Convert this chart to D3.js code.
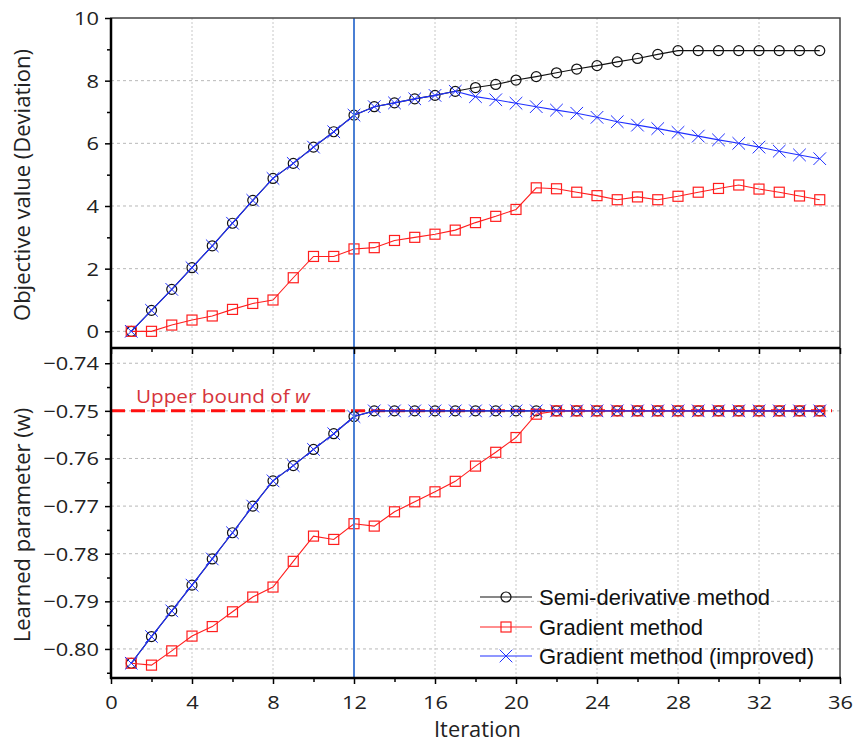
<!DOCTYPE html>
<html>
<head>
<meta charset="utf-8">
<script src="https://cdn.jsdelivr.net/npm/d3@7"></script>
<style>
  html, body { margin: 0; padding: 0; background: #fff; }
  svg { display: block; }
  text { font-family: "Open Sans", sans-serif; }
</style>
</head>
<body>
<svg id="chart" width="856" height="744"></svg>
<script>
// ---------------- data ----------------
const iterations = [1,2,3,4,5,6,7,8,9,10,11,12,13,14,15,16,17,18,19,20,21,22,23,24,25,26,27,28,29,30,31,32,33,34,35];

const semiObjective = [0,0.67,1.34,2.03,2.73,3.45,4.18,4.88,5.36,5.88,6.37,6.90,7.17,7.29,7.42,7.53,7.66,7.78,7.88,8.02,8.13,8.25,8.37,8.48,8.60,8.71,8.84,8.96,8.96,8.96,8.96,8.96,8.96,8.96,8.96];
const gradObjective = [0,0,0.20,0.36,0.49,0.70,0.89,1.00,1.71,2.39,2.39,2.63,2.67,2.90,3.00,3.10,3.23,3.47,3.67,3.89,4.58,4.55,4.44,4.33,4.20,4.29,4.20,4.31,4.44,4.56,4.67,4.54,4.44,4.32,4.20];
const impObjective = [0,0.67,1.34,2.03,2.73,3.45,4.18,4.88,5.36,5.88,6.37,6.90,7.17,7.29,7.42,7.53,7.66,7.49,7.39,7.28,7.17,7.06,6.96,6.83,6.69,6.58,6.47,6.35,6.23,6.11,6.00,5.88,5.75,5.63,5.51];

const semiW = [-0.8030,-0.7974,-0.7920,-0.7866,-0.7811,-0.7756,-0.7700,-0.7647,-0.7615,-0.7581,-0.7548,-0.7512,-0.75,-0.75,-0.75,-0.75,-0.75,-0.75,-0.75,-0.75,-0.75,-0.75,-0.75,-0.75,-0.75,-0.75,-0.75,-0.75,-0.75,-0.75,-0.75,-0.75,-0.75,-0.75,-0.75];
const gradW = [-0.8030,-0.8034,-0.8004,-0.7973,-0.7953,-0.7922,-0.7891,-0.7870,-0.7816,-0.7763,-0.7770,-0.7737,-0.7742,-0.7712,-0.7691,-0.7670,-0.7648,-0.7616,-0.7587,-0.7556,-0.7507,-0.75,-0.75,-0.75,-0.75,-0.75,-0.75,-0.75,-0.75,-0.75,-0.75,-0.75,-0.75,-0.75,-0.75];
const impW = [-0.8030,-0.7974,-0.7920,-0.7866,-0.7811,-0.7756,-0.7700,-0.7647,-0.7615,-0.7581,-0.7548,-0.7512,-0.75,-0.75,-0.75,-0.75,-0.75,-0.75,-0.75,-0.75,-0.75,-0.75,-0.75,-0.75,-0.75,-0.75,-0.75,-0.75,-0.75,-0.75,-0.75,-0.75,-0.75,-0.75,-0.75];

const xTicks = [0,4,8,12,16,20,24,28,32,36];
const xMinorTicks = [2,6,10,14,18,22,26,30,34];
const topTicks = [0,2,4,6,8,10];
const topMinorTicks = [1,3,5,7,9];
const botTicks = [-0.80,-0.79,-0.78,-0.77,-0.76,-0.75,-0.74];
const botMinorTicks = [-0.805,-0.795,-0.785,-0.775,-0.765,-0.755,-0.745];
const upperBound = -0.75;
const markedIteration = 12;

const seriesNames = ["Semi-derivative method", "Gradient method", "Gradient method (improved)"];
const seriesColors = ["#111111", "#ff1e1e", "#2030ff"];
const seriesShapes = ["circle", "square", "cross"];

// ---------------- layout ----------------
const L = 111, R = 840, T = 18, M = 348, B = 678;
const svg = d3.select("#chart");

const x = d3.scaleLinear().domain([0, 36]).range([L, R]);
const yTop = d3.scaleLinear().domain([-0.532, 10]).range([M, T]);
const yBot = d3.scaleLinear().domain([-0.8061, -0.7368]).range([B, M]);

const topSeries = [semiObjective, gradObjective, impObjective];
const botSeries = [semiW, gradW, impW];

const SX = 1.15;
function label(g, tx, ty, str, opts) {
  opts = opts || {};
  const t = g.append("text")
    .attr("transform", `translate(${tx},${ty}) scale(${opts.sx || SX},1)` + (opts.rot ? ` rotate(${opts.rot})` : ""))
    .attr("text-anchor", opts.anchor || "middle")
    .attr("font-size", opts.size || 19)
    .attr("fill", opts.fill || "#222")
    .text(str);
  if (opts.family) t.style("font-family", opts.family);
  return t;
}

// ---------------- grids ----------------
const grid = svg.append("g");
topTicks.filter(v => v < 10).forEach(v => {
  grid.append("line").attr("x1", L).attr("x2", R).attr("y1", yTop(v)).attr("y2", yTop(v))
    .attr("stroke", "#b8b8b8").attr("stroke-width", 1).attr("stroke-dasharray", "3,3");
});
botTicks.forEach(v => {
  grid.append("line").attr("x1", L).attr("x2", R).attr("y1", yBot(v)).attr("y2", yBot(v))
    .attr("stroke", "#b8b8b8").attr("stroke-width", 1).attr("stroke-dasharray", "3,3");
});
xTicks.filter(v => v > 0 && v < 36 && v !== markedIteration).forEach(v => {
  [[T, M], [M, B]].forEach(([a, b]) => {
    grid.append("line").attr("x1", x(v)).attr("x2", x(v)).attr("y1", a).attr("y2", b)
      .attr("stroke", "#c8c8c8").attr("stroke-width", 1).attr("stroke-dasharray", "2,2");
  });
});

// ---------------- upper bound line ----------------
svg.append("line")
  .attr("x1", L).attr("x2", R - 8)
  .attr("y1", yBot(upperBound)).attr("y2", yBot(upperBound))
  .attr("stroke", "#ff1010").attr("stroke-width", 3).attr("stroke-dasharray", "14,6");

const ub = svg.append("text")
  .attr("transform", `translate(136,403) scale(${SX},1)`)
  .attr("font-size", 18).attr("fill", "#d6343c");
ub.append("tspan").text("Upper bound of ");
ub.append("tspan").attr("font-style", "italic").text("w");

// ---------------- series ----------------
function drawMarker(g, shape, cx, cy, color) {
  if (shape === "circle") {
    g.append("circle").attr("cx", cx).attr("cy", cy).attr("r", 5)
      .attr("fill", "none").attr("stroke", color).attr("stroke-width", 1.2);
  } else if (shape === "square") {
    g.append("rect").attr("x", cx - 5).attr("y", cy - 5).attr("width", 10).attr("height", 10)
      .attr("fill", "none").attr("stroke", color).attr("stroke-width", 1.2);
  } else {
    const s = 6.3;
    g.append("path").attr("d", `M${cx - s},${cy - s}L${cx + s},${cy + s}M${cx - s},${cy + s}L${cx + s},${cy - s}`)
      .attr("stroke", color).attr("stroke-width", 1).attr("fill", "none");
  }
}

function drawPanel(seriesList, yScale) {
  seriesList.forEach((vals, i) => {
    const g = svg.append("g");
    const line = d3.line().x((d, j) => x(iterations[j])).y(d => yScale(d));
    g.append("path").datum(vals).attr("d", line)
      .attr("fill", "none").attr("stroke", seriesColors[i]).attr("stroke-width", 1.1);
    vals.forEach((v, j) => drawMarker(g, seriesShapes[i], x(iterations[j]), yScale(v), seriesColors[i]));
  });
}
drawPanel(topSeries, yTop);
drawPanel(botSeries, yBot);

// ---------------- marked iteration line ----------------
svg.append("line").attr("x1", x(markedIteration)).attr("x2", x(markedIteration))
  .attr("y1", T).attr("y2", B).attr("stroke", "#4a7fd4").attr("stroke-width", 2);

// ---------------- frames & axes ----------------
const frame = svg.append("g");
frame.append("rect").attr("x", L).attr("y", T).attr("width", R - L).attr("height", B - T)
  .attr("fill", "none").attr("stroke", "#444").attr("stroke-width", 1.5);
frame.append("line").attr("x1", L - 1).attr("x2", R).attr("y1", M).attr("y2", M).attr("stroke", "#000").attr("stroke-width", 2.5);
frame.append("line").attr("x1", L - 1).attr("x2", R + 1).attr("y1", B).attr("y2", B).attr("stroke", "#000").attr("stroke-width", 2.5);
frame.append("line").attr("x1", L).attr("x2", L).attr("y1", T).attr("y2", B + 1).attr("stroke", "#000").attr("stroke-width", 2.5);

function leftAxis(scale, major, minor, fmt) {
  const gMaj = svg.append("g").attr("transform", `translate(${L},0)`)
    .call(d3.axisLeft(scale).tickValues(major).tickSize(6).tickPadding(6).tickFormat(fmt));
  gMaj.select(".domain").remove();
  gMaj.selectAll(".tick line").attr("stroke", "#000").attr("stroke-width", 1.5);
  gMaj.selectAll(".tick text").attr("font-size", 19).attr("fill", "#222")
    .style("font-family", "'Open Sans', sans-serif")
    .attr("transform", `scale(${SX},1)`).attr("x", -12 / SX).attr("dy", "0.34em");
  const gMin = svg.append("g").attr("transform", `translate(${L},0)`)
    .call(d3.axisLeft(scale).tickValues(minor).tickSize(4).tickFormat(""));
  gMin.select(".domain").remove();
  gMin.selectAll(".tick line").attr("stroke", "#000").attr("stroke-width", 1.5);
}
leftAxis(yTop, topTicks, topMinorTicks, d3.format("d"));
leftAxis(yBot, botTicks, botMinorTicks, d3.format(".2f"));

function bottomAxis(yPos, withLabels) {
  const gMaj = svg.append("g").attr("transform", `translate(0,${yPos})`)
    .call(d3.axisBottom(x).tickValues(xTicks).tickSize(6).tickPadding(6).tickFormat(withLabels ? d3.format("d") : ""));
  gMaj.select(".domain").remove();
  gMaj.selectAll(".tick line").attr("stroke", "#000").attr("stroke-width", 1.5);
  gMaj.selectAll(".tick text").attr("font-size", 19).attr("fill", "#222")
    .style("font-family", "'Open Sans', sans-serif")
    .attr("transform", `scale(${SX},1)`)
    .attr("y", 18).attr("dy", "0.71em");
  const gMin = svg.append("g").attr("transform", `translate(0,${yPos})`)
    .call(d3.axisBottom(x).tickValues(xMinorTicks).tickSize(4).tickFormat(""));
  gMin.select(".domain").remove();
  gMin.selectAll(".tick line").attr("stroke", "#000").attr("stroke-width", 1.5);
}
bottomAxis(M, false);
bottomAxis(B, true);

// axis titles
label(svg, 30, (T + M) / 2 + 2, "Objective value (Deviation)", { rot: -90, size: 22, sx: 1.0 });
label(svg, 30, (M + B) / 2 + 12, "Learned parameter (w)", { rot: -90, size: 22, sx: 1.0 });
label(svg, x(18) + 2, 737, "Iteration", { size: 21, sx: 1.04 });

// ---------------- legend ----------------
const legend = svg.append("g");
const legY = [597, 627, 656];
seriesNames.forEach((name, i) => {
  legend.append("line").attr("x1", 480).attr("x2", 532).attr("y1", legY[i]).attr("y2", legY[i])
    .attr("stroke", seriesColors[i]).attr("stroke-width", 1.2);
  drawMarker(legend, seriesShapes[i], 506, legY[i], seriesColors[i]);
  legend.append("text").attr("x", 539).attr("y", legY[i] + 8)
    .attr("font-size", 22).attr("fill", "#111")
    .style("font-family", "'Liberation Sans', Arial, sans-serif")
    .text(name);
});
</script>
</body>
</html>
